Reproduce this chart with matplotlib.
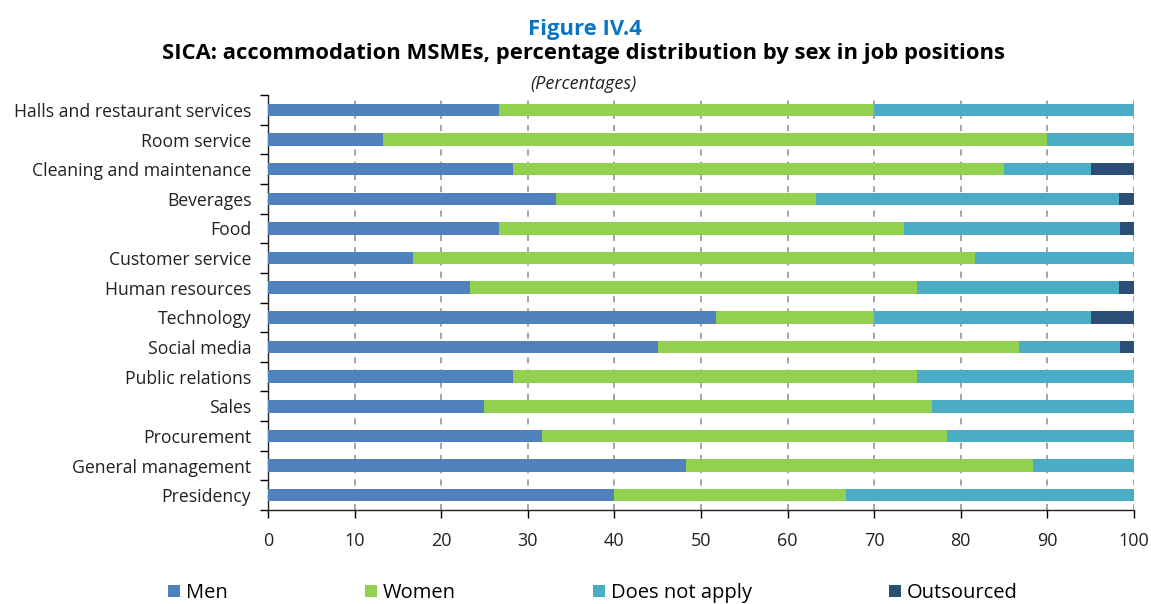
import numpy as np
import matplotlib.pyplot as plt

plt.rcParams['font.family'] = ['Open Sans', 'DejaVu Sans']

# job positions, top to bottom
categories = ['Halls and restaurant services', 'Room service', 'Cleaning and maintenance',
              'Beverages', 'Food', 'Customer service', 'Human resources', 'Technology',
              'Social media', 'Public relations', 'Sales', 'Procurement',
              'General management', 'Presidency']
men        = [26.7, 13.3, 28.3, 33.3, 26.7, 16.7, 23.3, 51.7, 45.0, 28.3, 25.0, 31.7, 48.3, 40.0]
women      = [43.3, 76.7, 56.7, 30.0, 46.7, 65.0, 51.7, 18.3, 41.7, 46.7, 51.7, 46.7, 40.0, 26.7]
not_apply  = [30.0, 10.0, 10.0, 35.0, 25.0, 18.3, 23.3, 25.0, 11.7, 25.0, 23.3, 21.6, 11.7, 33.3]
outsourced = [0.0, 0.0, 5.0, 1.7, 1.6, 0.0, 1.7, 5.0, 1.6, 0.0, 0.0, 0.0, 0.0, 0.0]

series = [('Men', men, '#4F81BD'), ('Women', women, '#92D050'),
          ('Does not apply', not_apply, '#4BACC6'), ('Outsourced', outsourced, '#2C4D75')]

fig = plt.figure(figsize=(11.51, 6.04), dpi=100)
ax = fig.add_axes([0.2328, 0.1556, 0.7524, 0.687])

y = np.arange(len(categories))
left = np.zeros(len(categories))
for name, vals, col in series:
    vals = np.array(vals)
    ax.barh(y, vals, left=left, height=0.42, color=col, label=name, zorder=3)
    left += vals

ax.set_xlim(0, 100)
ax.set_ylim(len(categories) - 0.5, -0.5)
ax.set_yticks(y)
ax.set_yticklabels(categories, fontsize=12.7, color='#222222')
ax.set_yticks(np.arange(len(categories) + 1) - 0.5, minor=True)
ax.tick_params(axis='y', which='major', length=0, pad=12)
ax.tick_params(axis='y', which='minor', length=6, width=1, direction='out')
ax.set_xticks(np.arange(0, 101, 10))
ax.tick_params(axis='x', length=6, width=1, labelsize=13, pad=10, labelcolor='#222222')

for xv in range(10, 101, 10):
    ax.axvline(xv, color='#8c8c8c', linestyle=(0, (4, 4)), linewidth=1.1, zorder=1)

for s in ['top', 'right']:
    ax.spines[s].set_visible(False)
for s in ['left', 'bottom']:
    ax.spines[s].set_linewidth(1)
    ax.spines[s].set_color('#222222')

fig.text(0.508, 0.942, 'Figure IV.4', ha='center', fontsize=15.8, fontweight='bold', color='#0B74C3')
fig.text(0.507, 0.902, 'SICA: accommodation MSMEs, percentage distribution by sex in job positions',
         ha='center', fontsize=15.8, fontweight='bold', color='black')
fig.text(0.507, 0.853, '(Percentages)', ha='center', fontsize=13, style='italic', color='#222222')

fig.legend(loc='center', bbox_to_anchor=(0.515, 0.018), ncol=4, frameon=False,
           fontsize=14.5, handlelength=0.6, handleheight=0.6, handletextpad=0.3,
           columnspacing=6.8)

fig.savefig('out.png', dpi=100)
